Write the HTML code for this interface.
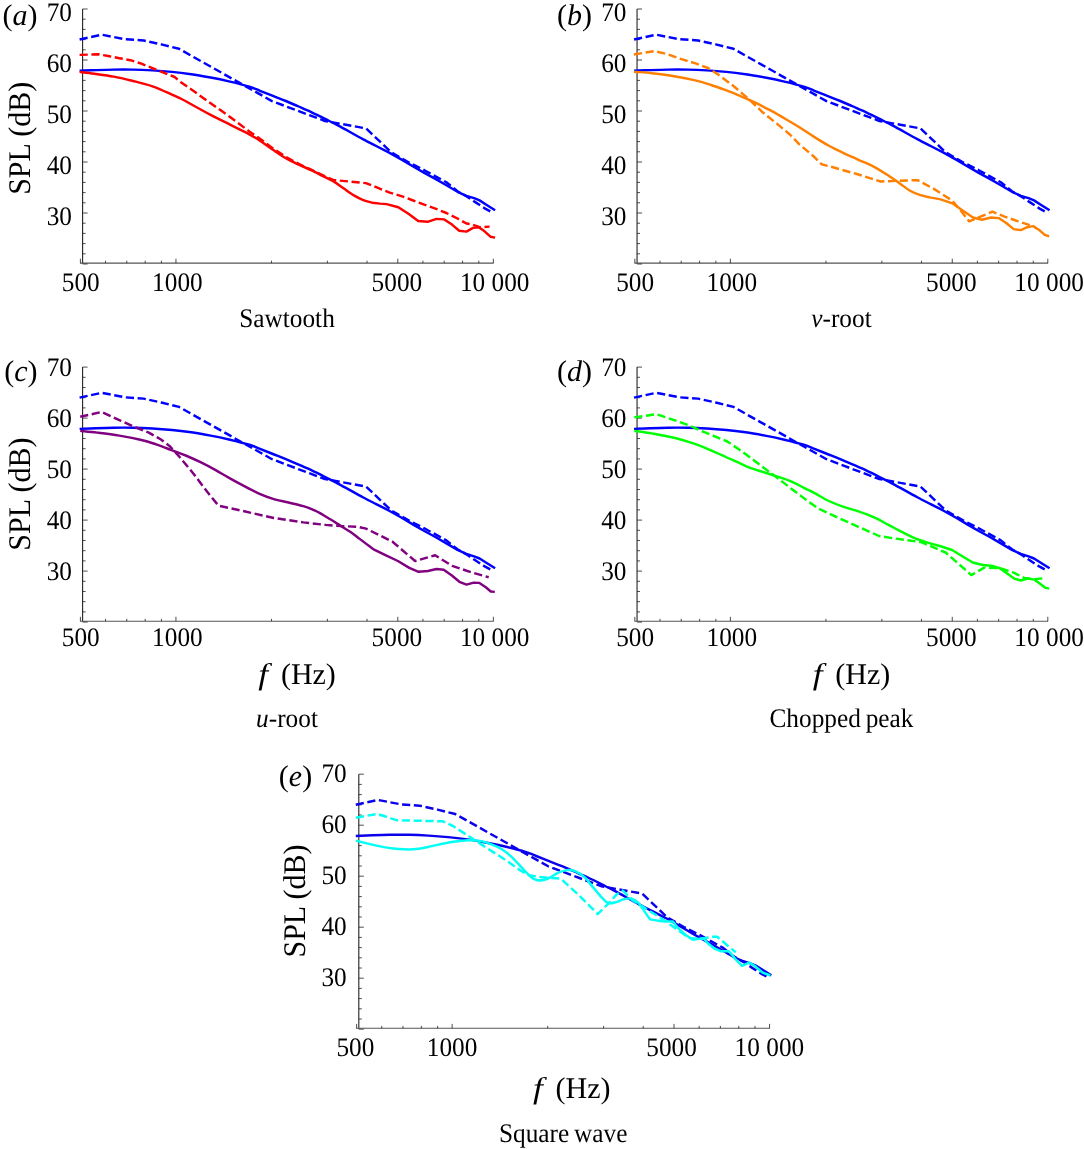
<!DOCTYPE html>
<html lang="en">
<head>
<meta charset="utf-8">
<title>SPL spectra for serration geometries</title>
<style>
html,body{margin:0;padding:0;background:#fff;}
body{width:1084px;height:1149px;overflow:hidden;}
svg{display:block;will-change:transform;}
text{font-family:"Liberation Serif","Times New Roman",serif;fill:#000;text-rendering:geometricPrecision;}
.t{font-size:25.3px;}
.l{font-size:30px;}
.i{font-style:italic;}
</style>
</head>
<body>
<svg width="1084" height="1149" viewBox="0 0 1084 1149">
<rect width="1084" height="1149" fill="#fff"/>
<g transform="translate(0.0,0.0)">
<path d="M82.6,9.0 V263.5" stroke="#222" stroke-width="1.1" fill="none"/>
<path d="M80.0,263.1 H493.6469206237477" stroke="#555" stroke-width="1.1" fill="none"/>
<path d="M82.6,264.00 h5.0 M82.6,253.80 h3.0 M82.6,243.60 h3.0 M82.6,233.40 h3.0 M82.6,223.20 h3.0 M82.6,213.00 h5.0 M82.6,202.80 h3.0 M82.6,192.60 h3.0 M82.6,182.40 h3.0 M82.6,172.20 h3.0 M82.6,162.00 h5.0 M82.6,151.80 h3.0 M82.6,141.60 h3.0 M82.6,131.40 h3.0 M82.6,121.20 h3.0 M82.6,111.00 h5.0 M82.6,100.80 h3.0 M82.6,90.60 h3.0 M82.6,80.40 h3.0 M82.6,70.20 h3.0 M82.6,60.00 h5.0 M82.6,49.80 h3.0 M82.6,39.60 h3.0 M82.6,29.40 h3.0 M82.6,19.20 h3.0 M82.6,9.00 h5.0" stroke="#222" stroke-width="0.8" fill="none"/>
<path d="M80.40,263.1 v-4.4 M105.53,263.1 v-2.4 M126.78,263.1 v-2.4 M145.19,263.1 v-2.4 M161.42,263.1 v-2.4 M175.95,263.1 v-4.4 M271.49,263.1 v-2.4 M327.39,263.1 v-2.4 M367.04,263.1 v-2.4 M397.80,263.1 v-4.4 M422.93,263.1 v-2.4 M444.18,263.1 v-2.4 M462.59,263.1 v-2.4 M478.82,263.1 v-2.4 M493.35,263.1 v-4.4" stroke="#222" stroke-width="0.8" fill="none"/>
<text class="t" transform="translate(72,224.6) scale(1,1.06)" text-anchor="end">30</text>
<text class="t" transform="translate(72,173.6) scale(1,1.06)" text-anchor="end">40</text>
<text class="t" transform="translate(72,122.6) scale(1,1.06)" text-anchor="end">50</text>
<text class="t" transform="translate(72,71.6) scale(1,1.06)" text-anchor="end">60</text>
<text class="t" transform="translate(72,20.6) scale(1,1.06)" text-anchor="end">70</text>
<text class="t" transform="translate(80.7,290.8) scale(1,1.06)" text-anchor="middle">500</text>
<text class="t" transform="translate(177.4,290.8) scale(1,1.06)" text-anchor="middle">1000</text>
<text class="t" transform="translate(396.9,290.8) scale(1,1.06)" text-anchor="middle">5000</text>
<text class="t" transform="translate(494.7,290.8) scale(1,1.06)" text-anchor="middle">10 000</text>
<text class="l" x="37.5" y="25.3" text-anchor="end">(<tspan class="i">a</tspan>)</text>
<text class="l" transform="translate(30.0,138.3) rotate(-90) scale(1,1.05)" text-anchor="middle">SPL (dB)</text>
<text class="t" transform="translate(287.0,326.8) scale(1,1.06)" text-anchor="middle" word-spacing="-1.5">Sawtooth</text>
<path d="M79.6,70.8 C82.3,70.7 90.3,70.3 96.0,70.1 C101.7,69.9 107.5,69.7 113.7,69.6 C119.9,69.5 126.6,69.5 133.1,69.6 C139.6,69.7 146.0,70.0 152.5,70.4 C159.0,70.8 165.5,71.3 171.9,71.9 C178.3,72.5 184.8,73.3 191.2,74.2 C197.6,75.1 204.1,76.3 210.6,77.5 C217.1,78.7 223.6,80.1 230.0,81.6 C236.4,83.1 244.3,85.1 249.3,86.6 C254.3,88.1 256.1,89.2 260.0,90.8 C263.9,92.3 268.6,94.2 272.9,95.9 C277.2,97.6 281.5,99.2 285.8,101.0 C290.1,102.8 294.4,104.6 298.7,106.5 C303.0,108.4 307.4,110.3 311.7,112.3 C316.0,114.3 320.3,116.5 324.6,118.7 C328.9,120.9 333.2,122.9 337.5,125.2 C341.8,127.5 346.1,129.9 350.4,132.3 C354.7,134.7 359.0,137.1 363.3,139.4 C367.6,141.7 374.1,144.9 376.2,146.0 L389.1,152.6 L402.1,159.9 L413.2,166.5 L424.3,172.9 L435.4,178.9 L446.4,185.3 L457.5,191.8 L466.4,195.8 L474.1,198.2 L479.6,200.4 L486.3,204.7 L495.1,210.2" stroke="#0000ff" fill="none" stroke-width="2.45" stroke-linejoin="round"/>
<path d="M79.6,39.5 L101.6,34.7 L124.8,39.2 L143.6,40.5 L161.3,44.4 L179.0,48.8 L272.0,101.1 L325.0,121.0 L366.0,128.4 L391.1,152.2 L407.7,161.8 L424.3,170.2 L446.4,182.3 L457.5,191.2 L467.5,196.9 L474.1,201.4 L485.2,208.6 L493.4,213.0" stroke="#0000ff" fill="none" stroke-width="2.45" stroke-linejoin="round" stroke-dasharray="8.2 3.6"/>
<path d="M79.6,71.9 C82.1,72.2 88.7,72.9 94.4,73.7 C100.1,74.5 107.2,75.4 113.7,76.6 C120.2,77.8 126.6,79.4 133.1,81.0 C139.6,82.6 146.0,84.1 152.5,86.4 C159.0,88.7 167.1,92.5 171.9,94.6 C176.7,96.7 178.3,97.4 181.5,99.0 C184.7,100.6 186.3,101.6 191.2,104.3 C196.0,107.0 204.1,111.5 210.6,114.9 C217.1,118.3 223.6,121.4 230.0,124.6 C236.4,127.8 244.3,131.6 249.3,134.3 C254.3,137.0 256.1,138.1 260.0,140.7 C263.9,143.3 268.6,146.8 272.9,149.7 C277.2,152.6 281.5,155.6 285.8,158.1 C290.1,160.6 294.4,162.5 298.7,164.6 C303.0,166.7 307.4,168.3 311.7,170.4 C316.0,172.5 321.0,175.1 324.6,176.9 C328.2,178.7 330.4,179.5 333.6,181.4 C336.8,183.3 340.4,186.1 343.9,188.5 C347.3,190.9 351.1,193.7 354.3,195.6 C357.5,197.5 360.3,198.9 363.3,200.1 C366.3,201.3 370.9,202.3 372.4,202.7 L380.0,203.6 L386.6,204.1 L398.3,207.2 L408.8,214.1 L418.2,221.0 L427.6,221.8 L436.5,218.9 L444.2,219.4 L452.0,224.6 L459.2,230.7 L466.4,231.6 L473.0,227.9 L479.1,227.4 L484.6,231.3 L490.7,236.8 L495.1,237.6" stroke="#ff0000" fill="none" stroke-width="2.45" stroke-linejoin="round"/>
<path d="M79.6,54.9 L98.2,54.3 L108.2,56.0 L119.3,58.2 L130.4,60.2 L141.4,63.7 L152.5,68.2 L163.6,72.6 L174.6,77.0 L181.3,82.6 L195.0,92.0 L210.6,103.3 L230.0,116.9 L249.3,131.4 L260.0,138.8 L272.9,148.4 L285.8,156.8 L298.7,163.9 L311.7,169.8 L324.6,176.2 L333.6,180.1 L350.4,181.6 L365.9,183.1 L376.2,187.2 L389.1,192.4 L402.1,196.4 L413.2,200.5 L424.3,204.7 L435.4,208.6 L446.4,213.0 L457.5,218.5 L466.4,223.5 L470.8,224.1 L479.6,227.2 L489.6,226.6" stroke="#ff0000" fill="none" stroke-width="2.45" stroke-linejoin="round" stroke-dasharray="8.2 3.6"/>
</g>
<g transform="translate(554.45,0.0)">
<path d="M82.6,9.0 V263.5" stroke="#222" stroke-width="1.1" fill="none"/>
<path d="M80.0,263.1 H493.6469206237477" stroke="#555" stroke-width="1.1" fill="none"/>
<path d="M82.6,264.00 h5.0 M82.6,253.80 h3.0 M82.6,243.60 h3.0 M82.6,233.40 h3.0 M82.6,223.20 h3.0 M82.6,213.00 h5.0 M82.6,202.80 h3.0 M82.6,192.60 h3.0 M82.6,182.40 h3.0 M82.6,172.20 h3.0 M82.6,162.00 h5.0 M82.6,151.80 h3.0 M82.6,141.60 h3.0 M82.6,131.40 h3.0 M82.6,121.20 h3.0 M82.6,111.00 h5.0 M82.6,100.80 h3.0 M82.6,90.60 h3.0 M82.6,80.40 h3.0 M82.6,70.20 h3.0 M82.6,60.00 h5.0 M82.6,49.80 h3.0 M82.6,39.60 h3.0 M82.6,29.40 h3.0 M82.6,19.20 h3.0 M82.6,9.00 h5.0" stroke="#222" stroke-width="0.8" fill="none"/>
<path d="M80.40,263.1 v-4.4 M105.53,263.1 v-2.4 M126.78,263.1 v-2.4 M145.19,263.1 v-2.4 M161.42,263.1 v-2.4 M175.95,263.1 v-4.4 M271.49,263.1 v-2.4 M327.39,263.1 v-2.4 M367.04,263.1 v-2.4 M397.80,263.1 v-4.4 M422.93,263.1 v-2.4 M444.18,263.1 v-2.4 M462.59,263.1 v-2.4 M478.82,263.1 v-2.4 M493.35,263.1 v-4.4" stroke="#222" stroke-width="0.8" fill="none"/>
<text class="t" transform="translate(72,224.6) scale(1,1.06)" text-anchor="end">30</text>
<text class="t" transform="translate(72,173.6) scale(1,1.06)" text-anchor="end">40</text>
<text class="t" transform="translate(72,122.6) scale(1,1.06)" text-anchor="end">50</text>
<text class="t" transform="translate(72,71.6) scale(1,1.06)" text-anchor="end">60</text>
<text class="t" transform="translate(72,20.6) scale(1,1.06)" text-anchor="end">70</text>
<text class="t" transform="translate(80.7,290.8) scale(1,1.06)" text-anchor="middle">500</text>
<text class="t" transform="translate(177.4,290.8) scale(1,1.06)" text-anchor="middle">1000</text>
<text class="t" transform="translate(396.9,290.8) scale(1,1.06)" text-anchor="middle">5000</text>
<text class="t" transform="translate(494.7,290.8) scale(1,1.06)" text-anchor="middle">10 000</text>
<text class="l" x="37.5" y="25.3" text-anchor="end">(<tspan class="i">b</tspan>)</text>
<text class="t" transform="translate(287.0,326.8) scale(1,1.06)" text-anchor="middle" word-spacing="-1.5"><tspan class="i">v</tspan>-root</text>
<path d="M79.6,70.8 C82.3,70.7 90.3,70.3 96.0,70.1 C101.7,69.9 107.5,69.7 113.7,69.6 C119.9,69.5 126.6,69.5 133.1,69.6 C139.6,69.7 146.0,70.0 152.5,70.4 C159.0,70.8 165.5,71.3 171.9,71.9 C178.3,72.5 184.8,73.3 191.2,74.2 C197.6,75.1 204.1,76.3 210.6,77.5 C217.1,78.7 223.6,80.1 230.0,81.6 C236.4,83.1 244.3,85.1 249.3,86.6 C254.3,88.1 256.1,89.2 260.0,90.8 C263.9,92.3 268.6,94.2 272.9,95.9 C277.2,97.6 281.5,99.2 285.8,101.0 C290.1,102.8 294.4,104.6 298.7,106.5 C303.0,108.4 307.4,110.3 311.7,112.3 C316.0,114.3 320.3,116.5 324.6,118.7 C328.9,120.9 333.2,122.9 337.5,125.2 C341.8,127.5 346.1,129.9 350.4,132.3 C354.7,134.7 359.0,137.1 363.3,139.4 C367.6,141.7 374.1,144.9 376.2,146.0 L389.1,152.6 L402.1,159.9 L413.2,166.5 L424.3,172.9 L435.4,178.9 L446.4,185.3 L457.5,191.8 L466.4,195.8 L474.1,198.2 L479.6,200.4 L486.3,204.7 L495.1,210.2" stroke="#0000ff" fill="none" stroke-width="2.45" stroke-linejoin="round"/>
<path d="M79.6,39.5 L101.6,34.7 L124.8,39.2 L143.6,40.5 L161.3,44.4 L179.0,48.8 L272.0,101.1 L325.0,121.0 L366.0,128.4 L391.1,152.2 L407.7,161.8 L424.3,170.2 L446.4,182.3 L457.5,191.2 L467.5,196.9 L474.1,201.4 L485.2,208.6 L493.4,213.0" stroke="#0000ff" fill="none" stroke-width="2.45" stroke-linejoin="round" stroke-dasharray="8.2 3.6"/>
<path d="M79.5,71.7 C82.5,72.0 90.8,72.5 97.5,73.2 C104.2,74.0 112.3,75.0 119.7,76.2 C127.1,77.4 135.7,79.1 141.8,80.6 C148.0,82.1 151.7,83.4 156.6,85.0 C161.5,86.6 166.4,88.4 171.3,90.2 C176.2,92.0 181.2,94.0 186.1,96.1 C191.0,98.2 196.0,100.3 200.9,102.7 C205.8,105.1 210.7,107.6 215.6,110.2 C220.5,112.8 225.3,115.7 230.2,118.5 C235.1,121.3 240.0,124.2 244.9,127.3 C249.8,130.4 254.8,133.8 259.7,136.9 C264.6,140.0 269.5,143.1 274.4,145.8 C279.3,148.5 284.3,150.8 289.2,153.1 C294.1,155.4 299.1,157.6 304.0,159.8 C308.9,162.0 313.8,163.8 318.7,166.4 C323.6,169.0 329.1,172.5 333.5,175.3 C337.9,178.1 341.6,180.8 345.3,183.4 C349.0,186.0 352.2,188.8 355.6,190.8 C359.1,192.8 362.7,194.1 366.0,195.2 C369.3,196.3 373.8,197.0 375.4,197.4 L386.2,199.4 L397.9,203.3 L408.2,210.4 L418.5,217.5 L427.6,219.7 L436.6,217.5 L444.3,218.1 L452.1,223.3 L459.2,229.1 L466.3,230.1 L472.8,227.2 L478.6,226.1 L484.4,229.7 L490.2,234.9 L494.7,236.2" stroke="#ff8000" fill="none" stroke-width="2.45" stroke-linejoin="round"/>
<path d="M79.5,54.5 L99.8,51.1 L112.3,54.0 L127.1,59.2 L141.8,63.6 L153.6,68.0 L164.0,74.7 L178.7,85.8 L193.5,98.3 L208.2,112.3 L223.0,124.1 L235.4,134.5 L244.9,144.3 L259.7,156.8 L267.1,164.2 L281.8,168.2 L304.0,174.5 L326.1,181.5 L340.9,180.9 L363.0,180.1 L379.8,189.1 L397.9,200.7 L408.2,213.0 L414.6,221.3 L437.9,211.7 L450.8,216.8 L463.7,221.3 L476.0,225.4" stroke="#ff8000" fill="none" stroke-width="2.45" stroke-linejoin="round" stroke-dasharray="8.2 3.6"/>
</g>
<g transform="translate(0.0,358.1)">
<path d="M82.6,9.0 V263.5" stroke="#222" stroke-width="1.1" fill="none"/>
<path d="M80.0,263.1 H493.6469206237477" stroke="#555" stroke-width="1.1" fill="none"/>
<path d="M82.6,264.00 h5.0 M82.6,253.80 h3.0 M82.6,243.60 h3.0 M82.6,233.40 h3.0 M82.6,223.20 h3.0 M82.6,213.00 h5.0 M82.6,202.80 h3.0 M82.6,192.60 h3.0 M82.6,182.40 h3.0 M82.6,172.20 h3.0 M82.6,162.00 h5.0 M82.6,151.80 h3.0 M82.6,141.60 h3.0 M82.6,131.40 h3.0 M82.6,121.20 h3.0 M82.6,111.00 h5.0 M82.6,100.80 h3.0 M82.6,90.60 h3.0 M82.6,80.40 h3.0 M82.6,70.20 h3.0 M82.6,60.00 h5.0 M82.6,49.80 h3.0 M82.6,39.60 h3.0 M82.6,29.40 h3.0 M82.6,19.20 h3.0 M82.6,9.00 h5.0" stroke="#222" stroke-width="0.8" fill="none"/>
<path d="M80.40,263.1 v-4.4 M105.53,263.1 v-2.4 M126.78,263.1 v-2.4 M145.19,263.1 v-2.4 M161.42,263.1 v-2.4 M175.95,263.1 v-4.4 M271.49,263.1 v-2.4 M327.39,263.1 v-2.4 M367.04,263.1 v-2.4 M397.80,263.1 v-4.4 M422.93,263.1 v-2.4 M444.18,263.1 v-2.4 M462.59,263.1 v-2.4 M478.82,263.1 v-2.4 M493.35,263.1 v-4.4" stroke="#222" stroke-width="0.8" fill="none"/>
<text class="t" transform="translate(72,221.7) scale(1,1.06)" text-anchor="end">30</text>
<text class="t" transform="translate(72,170.7) scale(1,1.06)" text-anchor="end">40</text>
<text class="t" transform="translate(72,119.7) scale(1,1.06)" text-anchor="end">50</text>
<text class="t" transform="translate(72,68.7) scale(1,1.06)" text-anchor="end">60</text>
<text class="t" transform="translate(72,17.7) scale(1,1.06)" text-anchor="end">70</text>
<text class="t" transform="translate(80.7,287.4) scale(1,1.06)" text-anchor="middle">500</text>
<text class="t" transform="translate(177.4,287.4) scale(1,1.06)" text-anchor="middle">1000</text>
<text class="t" transform="translate(396.9,287.4) scale(1,1.06)" text-anchor="middle">5000</text>
<text class="t" transform="translate(494.7,287.4) scale(1,1.06)" text-anchor="middle">10 000</text>
<text class="l" x="37.5" y="22.5" text-anchor="end">(<tspan class="i">c</tspan>)</text>
<text class="l" transform="translate(30.0,136.0) rotate(-90) scale(1,1.05)" text-anchor="middle">SPL (dB)</text>
<text class="l i" transform="translate(258.2,325.8) scale(1.18,1)">f</text>
<text class="l" x="280.9" y="325.8">(Hz)</text>
<text class="t" transform="translate(287.0,368.4) scale(1,1.06)" text-anchor="middle" word-spacing="-1.5"><tspan class="i">u</tspan>-root</text>
<path d="M79.6,70.8 C82.3,70.7 90.3,70.3 96.0,70.1 C101.7,69.9 107.5,69.7 113.7,69.6 C119.9,69.5 126.6,69.5 133.1,69.6 C139.6,69.7 146.0,70.0 152.5,70.4 C159.0,70.8 165.5,71.3 171.9,71.9 C178.3,72.5 184.8,73.3 191.2,74.2 C197.6,75.1 204.1,76.3 210.6,77.5 C217.1,78.7 223.6,80.1 230.0,81.6 C236.4,83.1 244.3,85.1 249.3,86.6 C254.3,88.1 256.1,89.2 260.0,90.8 C263.9,92.3 268.6,94.2 272.9,95.9 C277.2,97.6 281.5,99.2 285.8,101.0 C290.1,102.8 294.4,104.6 298.7,106.5 C303.0,108.4 307.4,110.3 311.7,112.3 C316.0,114.3 320.3,116.5 324.6,118.7 C328.9,120.9 333.2,122.9 337.5,125.2 C341.8,127.5 346.1,129.9 350.4,132.3 C354.7,134.7 359.0,137.1 363.3,139.4 C367.6,141.7 374.1,144.9 376.2,146.0 L389.1,152.6 L402.1,159.9 L413.2,166.5 L424.3,172.9 L435.4,178.9 L446.4,185.3 L457.5,191.8 L466.4,195.8 L474.1,198.2 L479.6,200.4 L486.3,204.7 L495.1,210.2" stroke="#0000ff" fill="none" stroke-width="2.45" stroke-linejoin="round"/>
<path d="M79.6,39.5 L101.6,34.7 L124.8,39.2 L143.6,40.5 L161.3,44.4 L179.0,48.8 L272.0,101.1 L325.0,121.0 L366.0,128.4 L391.1,152.2 L407.7,161.8 L424.3,170.2 L446.4,182.3 L457.5,191.2 L467.5,196.9 L474.1,201.4 L485.2,208.6 L493.4,213.0" stroke="#0000ff" fill="none" stroke-width="2.45" stroke-linejoin="round" stroke-dasharray="8.2 3.6"/>
<path d="M80.2,72.8 C83.0,73.1 90.6,73.7 97.1,74.5 C103.6,75.3 111.9,76.3 119.3,77.5 C126.7,78.7 135.2,80.4 141.4,81.9 C147.6,83.4 151.3,84.7 156.2,86.3 C161.1,87.9 166.0,89.9 170.9,91.8 C175.8,93.7 180.8,95.4 185.7,97.4 C190.6,99.5 195.6,101.7 200.5,104.1 C205.4,106.5 210.4,109.1 215.2,111.8 C220.0,114.5 224.7,117.3 229.5,120.0 C234.3,122.7 239.4,125.5 244.3,128.1 C249.2,130.7 254.1,133.3 259.0,135.5 C263.9,137.7 268.9,139.5 273.8,141.0 C278.7,142.5 283.7,143.2 288.6,144.4 C293.5,145.6 298.9,146.8 303.3,148.1 C307.7,149.4 311.2,150.7 315.1,152.5 C319.0,154.3 323.0,156.8 326.9,159.1 C330.8,161.4 334.8,164.0 338.7,166.5 C342.6,169.0 347.2,171.7 350.6,174.0 C354.0,176.3 355.5,177.6 359.3,180.5 C363.1,183.4 371.2,189.4 373.6,191.2 L386.5,197.6 L397.9,202.9 L409.3,209.8 L418.6,213.7 L427.9,212.9 L436.5,210.9 L443.7,211.7 L452.2,217.7 L459.4,223.7 L466.5,226.5 L473.7,224.5 L479.4,224.8 L485.8,229.1 L490.8,233.4 L494.8,233.8" stroke="#800080" fill="none" stroke-width="2.45" stroke-linejoin="round"/>
<path d="M80.2,58.7 L101.6,53.9 L119.3,62.0 L134.0,68.6 L148.8,74.5 L160.6,81.2 L169.5,87.8 L178.3,97.4 L193.1,115.1 L207.8,134.5 L218.5,147.6 L244.3,153.2 L273.8,159.9 L303.3,164.3 L325.5,166.8 L341.7,168.0 L358.0,168.7 L366.0,170.5 L392.2,183.4 L415.1,202.9 L435.1,197.2 L452.2,207.7 L470.8,214.1 L488.7,219.1" stroke="#800080" fill="none" stroke-width="2.45" stroke-linejoin="round" stroke-dasharray="8.2 3.6"/>
</g>
<g transform="translate(554.45,358.1)">
<path d="M82.6,9.0 V263.5" stroke="#222" stroke-width="1.1" fill="none"/>
<path d="M80.0,263.1 H493.6469206237477" stroke="#555" stroke-width="1.1" fill="none"/>
<path d="M82.6,264.00 h5.0 M82.6,253.80 h3.0 M82.6,243.60 h3.0 M82.6,233.40 h3.0 M82.6,223.20 h3.0 M82.6,213.00 h5.0 M82.6,202.80 h3.0 M82.6,192.60 h3.0 M82.6,182.40 h3.0 M82.6,172.20 h3.0 M82.6,162.00 h5.0 M82.6,151.80 h3.0 M82.6,141.60 h3.0 M82.6,131.40 h3.0 M82.6,121.20 h3.0 M82.6,111.00 h5.0 M82.6,100.80 h3.0 M82.6,90.60 h3.0 M82.6,80.40 h3.0 M82.6,70.20 h3.0 M82.6,60.00 h5.0 M82.6,49.80 h3.0 M82.6,39.60 h3.0 M82.6,29.40 h3.0 M82.6,19.20 h3.0 M82.6,9.00 h5.0" stroke="#222" stroke-width="0.8" fill="none"/>
<path d="M80.40,263.1 v-4.4 M105.53,263.1 v-2.4 M126.78,263.1 v-2.4 M145.19,263.1 v-2.4 M161.42,263.1 v-2.4 M175.95,263.1 v-4.4 M271.49,263.1 v-2.4 M327.39,263.1 v-2.4 M367.04,263.1 v-2.4 M397.80,263.1 v-4.4 M422.93,263.1 v-2.4 M444.18,263.1 v-2.4 M462.59,263.1 v-2.4 M478.82,263.1 v-2.4 M493.35,263.1 v-4.4" stroke="#222" stroke-width="0.8" fill="none"/>
<text class="t" transform="translate(72,221.7) scale(1,1.06)" text-anchor="end">30</text>
<text class="t" transform="translate(72,170.7) scale(1,1.06)" text-anchor="end">40</text>
<text class="t" transform="translate(72,119.7) scale(1,1.06)" text-anchor="end">50</text>
<text class="t" transform="translate(72,68.7) scale(1,1.06)" text-anchor="end">60</text>
<text class="t" transform="translate(72,17.7) scale(1,1.06)" text-anchor="end">70</text>
<text class="t" transform="translate(80.7,287.4) scale(1,1.06)" text-anchor="middle">500</text>
<text class="t" transform="translate(177.4,287.4) scale(1,1.06)" text-anchor="middle">1000</text>
<text class="t" transform="translate(396.9,287.4) scale(1,1.06)" text-anchor="middle">5000</text>
<text class="t" transform="translate(494.7,287.4) scale(1,1.06)" text-anchor="middle">10 000</text>
<text class="l" x="37.5" y="22.5" text-anchor="end">(<tspan class="i">d</tspan>)</text>
<text class="l i" transform="translate(258.2,325.8) scale(1.18,1)">f</text>
<text class="l" x="280.9" y="325.8">(Hz)</text>
<text class="t" transform="translate(287.0,368.4) scale(1,1.06)" text-anchor="middle" word-spacing="-1.5">Chopped peak</text>
<path d="M79.6,70.8 C82.3,70.7 90.3,70.3 96.0,70.1 C101.7,69.9 107.5,69.7 113.7,69.6 C119.9,69.5 126.6,69.5 133.1,69.6 C139.6,69.7 146.0,70.0 152.5,70.4 C159.0,70.8 165.5,71.3 171.9,71.9 C178.3,72.5 184.8,73.3 191.2,74.2 C197.6,75.1 204.1,76.3 210.6,77.5 C217.1,78.7 223.6,80.1 230.0,81.6 C236.4,83.1 244.3,85.1 249.3,86.6 C254.3,88.1 256.1,89.2 260.0,90.8 C263.9,92.3 268.6,94.2 272.9,95.9 C277.2,97.6 281.5,99.2 285.8,101.0 C290.1,102.8 294.4,104.6 298.7,106.5 C303.0,108.4 307.4,110.3 311.7,112.3 C316.0,114.3 320.3,116.5 324.6,118.7 C328.9,120.9 333.2,122.9 337.5,125.2 C341.8,127.5 346.1,129.9 350.4,132.3 C354.7,134.7 359.0,137.1 363.3,139.4 C367.6,141.7 374.1,144.9 376.2,146.0 L389.1,152.6 L402.1,159.9 L413.2,166.5 L424.3,172.9 L435.4,178.9 L446.4,185.3 L457.5,191.8 L466.4,195.8 L474.1,198.2 L479.6,200.4 L486.3,204.7 L495.1,210.2" stroke="#0000ff" fill="none" stroke-width="2.45" stroke-linejoin="round"/>
<path d="M79.6,39.5 L101.6,34.7 L124.8,39.2 L143.6,40.5 L161.3,44.4 L179.0,48.8 L272.0,101.1 L325.0,121.0 L366.0,128.4 L391.1,152.2 L407.7,161.8 L424.3,170.2 L446.4,182.3 L457.5,191.2 L467.5,196.9 L474.1,201.4 L485.2,208.6 L493.4,213.0" stroke="#0000ff" fill="none" stroke-width="2.45" stroke-linejoin="round" stroke-dasharray="8.2 3.6"/>
<path d="M79.8,72.8 C82.8,73.2 90.8,74.1 97.5,75.3 C104.2,76.5 112.3,77.9 119.7,79.7 C127.1,81.5 135.7,84.2 141.8,86.3 C148.0,88.4 151.7,90.2 156.6,92.3 C161.5,94.4 166.9,96.9 171.3,98.9 C175.7,100.9 178.9,102.2 183.1,104.1 C187.3,105.9 192.2,108.4 196.4,110.0 C200.6,111.6 203.8,112.3 208.2,113.7 C212.6,115.1 218.5,117.0 223.0,118.5 C227.5,120.0 231.8,121.3 235.4,122.8 C239.1,124.3 240.9,125.4 244.9,127.4 C248.9,129.4 254.8,132.2 259.7,134.8 C264.6,137.4 269.5,140.6 274.4,142.9 C279.3,145.2 284.3,147.1 289.2,148.8 C294.1,150.5 299.1,151.5 304.0,153.2 C308.9,154.9 313.8,156.6 318.7,158.8 C323.6,161.0 329.1,164.2 333.5,166.5 C337.9,168.8 340.9,170.5 345.3,172.7 C349.7,174.9 354.9,177.8 359.7,179.8 C364.5,181.8 371.6,184.0 374.0,184.8 L386.9,188.4 L397.6,191.9 L408.3,198.4 L418.3,204.4 L428.3,206.9 L436.9,207.7 L445.5,210.1 L452.6,215.5 L459.8,220.5 L466.2,222.4 L473.4,220.5 L479.8,221.5 L486.2,226.2 L491.2,229.8 L494.8,230.5" stroke="#00ff00" fill="none" stroke-width="2.45" stroke-linejoin="round"/>
<path d="M79.8,59.3 L102.0,56.1 L119.7,62.0 L134.4,67.2 L149.2,73.8 L164.0,79.7 L172.8,83.4 L186.1,92.3 L200.9,103.3 L215.6,114.4 L224.3,120.8 L237.5,131.1 L252.3,142.2 L264.1,150.6 L281.8,158.8 L304.0,168.7 L324.6,177.9 L340.9,180.5 L366.8,184.1 L391.2,194.4 L416.9,217.0 L429.8,209.5 L445.5,210.1 L459.8,214.8 L469.8,219.8 L479.8,221.2 L489.1,220.1" stroke="#00ff00" fill="none" stroke-width="2.45" stroke-linejoin="round" stroke-dasharray="8.2 3.6"/>
</g>
<g transform="translate(276.2,765.2)">
<path d="M82.6,9.0 V263.5" stroke="#222" stroke-width="1.1" fill="none"/>
<path d="M80.0,263.1 H493.6469206237477" stroke="#555" stroke-width="1.1" fill="none"/>
<path d="M82.6,264.00 h5.0 M82.6,253.80 h3.0 M82.6,243.60 h3.0 M82.6,233.40 h3.0 M82.6,223.20 h3.0 M82.6,213.00 h5.0 M82.6,202.80 h3.0 M82.6,192.60 h3.0 M82.6,182.40 h3.0 M82.6,172.20 h3.0 M82.6,162.00 h5.0 M82.6,151.80 h3.0 M82.6,141.60 h3.0 M82.6,131.40 h3.0 M82.6,121.20 h3.0 M82.6,111.00 h5.0 M82.6,100.80 h3.0 M82.6,90.60 h3.0 M82.6,80.40 h3.0 M82.6,70.20 h3.0 M82.6,60.00 h5.0 M82.6,49.80 h3.0 M82.6,39.60 h3.0 M82.6,29.40 h3.0 M82.6,19.20 h3.0 M82.6,9.00 h5.0" stroke="#222" stroke-width="0.8" fill="none"/>
<path d="M80.40,263.1 v-4.4 M105.53,263.1 v-2.4 M126.78,263.1 v-2.4 M145.19,263.1 v-2.4 M161.42,263.1 v-2.4 M175.95,263.1 v-4.4 M271.49,263.1 v-2.4 M327.39,263.1 v-2.4 M367.04,263.1 v-2.4 M397.80,263.1 v-4.4 M422.93,263.1 v-2.4 M444.18,263.1 v-2.4 M462.59,263.1 v-2.4 M478.82,263.1 v-2.4 M493.35,263.1 v-4.4" stroke="#222" stroke-width="0.8" fill="none"/>
<text class="t" transform="translate(70.5,220.4) scale(1,1.06)" text-anchor="end">30</text>
<text class="t" transform="translate(70.5,169.4) scale(1,1.06)" text-anchor="end">40</text>
<text class="t" transform="translate(70.5,118.4) scale(1,1.06)" text-anchor="end">50</text>
<text class="t" transform="translate(70.5,67.4) scale(1,1.06)" text-anchor="end">60</text>
<text class="t" transform="translate(70.5,16.4) scale(1,1.06)" text-anchor="end">70</text>
<text class="t" transform="translate(79.2,291.2) scale(1,1.06)" text-anchor="middle">500</text>
<text class="t" transform="translate(175.9,291.2) scale(1,1.06)" text-anchor="middle">1000</text>
<text class="t" transform="translate(395.4,291.2) scale(1,1.06)" text-anchor="middle">5000</text>
<text class="t" transform="translate(493.2,291.2) scale(1,1.06)" text-anchor="middle">10 000</text>
<text class="l" x="36.0" y="20.3" text-anchor="end">(<tspan class="i">e</tspan>)</text>
<text class="l" transform="translate(29.1,135.8) rotate(-90) scale(1,1.05)" text-anchor="middle">SPL (dB)</text>
<text class="l i" transform="translate(256.7,333.2) scale(1.18,1)">f</text>
<text class="l" x="279.4" y="333.2">(Hz)</text>
<text class="t" transform="translate(287.0,376.7) scale(1,1.06)" text-anchor="middle" word-spacing="-1.5">Square wave</text>
<path d="M79.6,70.8 C82.3,70.7 90.3,70.3 96.0,70.1 C101.7,69.9 107.5,69.7 113.7,69.6 C119.9,69.5 126.6,69.5 133.1,69.6 C139.6,69.7 146.0,70.0 152.5,70.4 C159.0,70.8 165.5,71.3 171.9,71.9 C178.3,72.5 184.8,73.3 191.2,74.2 C197.6,75.1 204.1,76.3 210.6,77.5 C217.1,78.7 223.6,80.1 230.0,81.6 C236.4,83.1 244.3,85.1 249.3,86.6 C254.3,88.1 256.1,89.2 260.0,90.8 C263.9,92.3 268.6,94.2 272.9,95.9 C277.2,97.6 281.5,99.2 285.8,101.0 C290.1,102.8 294.4,104.6 298.7,106.5 C303.0,108.4 307.4,110.3 311.7,112.3 C316.0,114.3 320.3,116.5 324.6,118.7 C328.9,120.9 333.2,122.9 337.5,125.2 C341.8,127.5 346.1,129.9 350.4,132.3 C354.7,134.7 359.0,137.1 363.3,139.4 C367.6,141.7 374.1,144.9 376.2,146.0 L389.1,152.6 L402.1,159.9 L413.2,166.5 L424.3,172.9 L435.4,178.9 L446.4,185.3 L457.5,191.8 L466.4,195.8 L474.1,198.2 L479.6,200.4 L486.3,204.7 L495.1,210.2" stroke="#0a00ec" fill="none" stroke-width="2.45" stroke-linejoin="round"/>
<path d="M79.6,39.5 L101.6,34.7 L124.8,39.2 L143.6,40.5 L161.3,44.4 L179.0,48.8 L272.0,101.1 L325.0,121.0 L366.0,128.4 L391.1,152.2 L407.7,161.8 L424.3,170.2 L446.4,182.3 L457.5,191.2 L467.5,196.9 L474.1,201.4 L485.2,208.6 L493.4,213.0" stroke="#0a00ec" fill="none" stroke-width="2.45" stroke-linejoin="round" stroke-dasharray="8.2 3.6"/>
<path d="M79.7,75.4 C82.4,76.1 90.7,78.2 95.9,79.4 C101.1,80.6 106.3,81.7 110.7,82.4 C115.1,83.1 118.1,83.5 122.5,83.8 C126.9,84.1 132.6,84.4 137.3,84.1 C142.0,83.8 146.4,82.9 150.6,82.1 C154.8,81.3 158.0,80.3 162.4,79.4 C166.8,78.5 172.2,77.2 177.1,76.5 C182.0,75.8 187.5,75.1 191.9,75.0 C196.3,74.9 200.0,75.1 203.7,75.7 C207.4,76.3 210.3,77.3 214.0,78.7 C217.7,80.1 221.9,81.8 225.6,84.0 C229.2,86.2 232.4,88.9 235.9,92.1 C239.4,95.3 243.1,99.9 246.3,103.2 C249.5,106.5 252.4,110.0 255.1,112.0 C257.8,114.0 259.6,115.2 262.5,115.3 C265.4,115.4 269.6,114.1 272.8,112.8 C276.0,111.5 278.7,108.9 281.7,107.6 C284.7,106.3 287.7,105.2 290.6,104.9 C293.6,104.7 296.4,104.9 299.4,106.1 C302.3,107.3 305.4,109.3 308.3,112.0 C311.2,114.7 314.2,119.0 317.1,122.4 C320.1,125.9 323.5,130.1 326.0,132.7 C328.5,135.3 329.7,137.2 331.9,137.9 C334.1,138.6 336.6,137.8 339.3,137.1 C342.0,136.4 345.4,134.5 348.1,133.9 C350.8,133.3 353.2,132.8 355.5,133.4 C357.8,134.0 360.1,135.6 362.1,137.6 C364.1,139.6 365.6,142.4 367.6,145.2 C369.6,148.0 372.8,152.7 373.9,154.2 L385.6,156.0 L396.7,156.3 L402.2,163.2 L409.1,169.5 L416.8,174.6 L427.1,172.9 L431.3,177.8 L438.2,183.3 L445.1,186.1 L452.7,186.1 L459.0,193.7 L465.9,200.6 L472.8,197.4 L478.3,200.6 L486.6,207.5 L494.2,210.3" stroke="#00fff4" fill="none" stroke-width="2.45" stroke-linejoin="round"/>
<path d="M79.7,52.5 L101.1,48.7 L121.0,55.1 L140.2,55.5 L166.8,56.1 L177.1,61.0 L191.9,70.6 L206.6,80.2 L221.4,89.7 L233.8,97.8 L243.3,104.7 L252.2,109.8 L262.5,111.7 L284.6,113.5 L302.4,129.7 L321.5,148.9 L331.9,138.6 L340.7,129.0 L346.6,125.3 L355.5,134.5 L374.6,146.6 L385.6,153.5 L399.5,163.2 L413.3,172.9 L427.1,173.6 L434.1,171.5 L441.0,171.5 L450.7,179.8 L459.6,187.0" stroke="#00fff4" fill="none" stroke-width="2.45" stroke-linejoin="round" stroke-dasharray="8.2 3.6"/>
</g>
</svg>
</body>
</html>
